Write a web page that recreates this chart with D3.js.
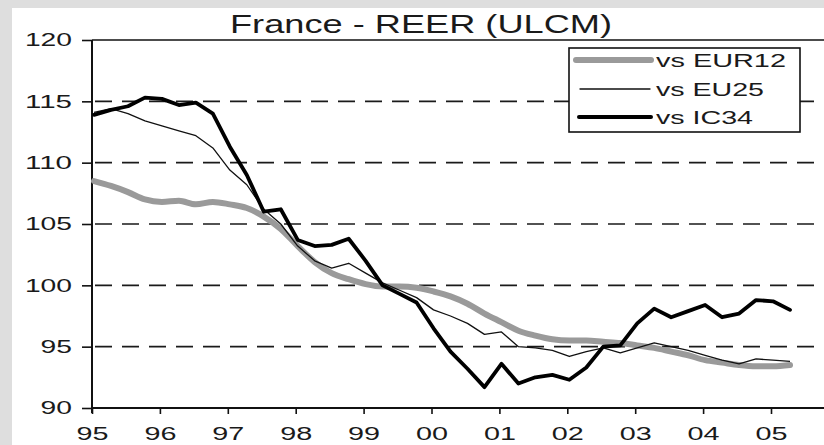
<!DOCTYPE html>
<html>
<head>
<meta charset="utf-8">
<script src="https://cdn.jsdelivr.net/npm/d3@7"></script>
<style>
  body { margin: 0; background: #fff; }
  svg { display: block; font-family: "Liberation Sans", Arial, sans-serif; }
</style>
</head>
<body>
<script>
// quarterly, 1995Q1 .. 2005Q2
var startYear = 1995;
var eur12 = [108.5,108.1,107.6,107.0,106.8,106.9,106.6,106.8,106.6,106.3,
             105.6,104.6,103.2,101.9,101.0,100.5,100.1,99.9,99.9,99.8,
             99.5,99.1,98.5,97.7,97.0,96.3,95.9,95.6,95.5,95.5,
             95.4,95.3,95.1,94.9,94.6,94.3,93.9,93.7,93.5,93.4,
             93.4,93.5];
var eu25 = [114.1,114.4,114.0,113.4,113.0,112.6,112.2,111.2,109.4,108.2,
            106.2,105.0,103.2,102.0,101.4,101.8,101.0,100.2,99.6,99.0,
            98.0,97.5,96.9,96.0,96.2,95.0,94.9,94.7,94.2,94.6,
            94.9,94.5,94.9,95.3,95.0,94.7,94.3,93.9,93.6,94.0,
            93.9,93.8];
var ic34 = [113.9,114.3,114.6,115.3,115.2,114.7,114.9,114.0,111.3,109.0,
            106.0,106.2,103.7,103.2,103.3,103.8,102.0,100.0,99.3,98.6,
            96.5,94.6,93.2,91.7,93.6,92.0,92.5,92.7,92.3,93.3,
            95.0,95.1,96.9,98.1,97.4,97.9,98.4,97.4,97.7,98.8,
            98.7,98.0];
var yTicks = [90, 95, 100, 105, 110, 115, 120];
var yGrid = [95, 100, 105, 110, 115];
var xTicks = [1995,1996,1997,1998,1999,2000,2001,2002,2003,2004,2005];
var seriesNames = ["vs EUR12", "vs EU25", "vs IC34"];

var W = 824, H = 445;
var svg = d3.select("body").append("svg")
    .attr("width", W)
    .attr("height", H);

// scanned page edges
svg.append("rect").attr("x", 0).attr("y", 0).attr("width", W).attr("height", 8).attr("fill", "#dedede");
svg.append("rect").attr("x", 0).attr("y", 0).attr("width", 12).attr("height", H).attr("fill", "#dedede");

var x = d3.scaleLinear().domain([1995, 2005]).range([92, 771]);
var y = d3.scaleLinear().domain([90, 120]).range([408, 40]);

function pts(arr) {
    return arr.map(function(v, i){ return {t: startYear + i/4 + 0.03, v: v}; });
}

// dashed grid
svg.append("g").selectAll("line")
    .data(yGrid)
    .enter().append("line")
    .attr("x1", x(1995)).attr("x2", W)
    .attr("y1", function(d){ return y(d); })
    .attr("y2", function(d){ return y(d); })
    .attr("stroke", "#1a1a1a")
    .attr("stroke-width", 1.6)
    .attr("stroke-dasharray", "17,10")
    .attr("stroke-dashoffset", -3);

// top border
svg.append("line")
    .attr("x1", x(1995)).attr("x2", W)
    .attr("y1", y(120)).attr("y2", y(120))
    .attr("stroke", "#111").attr("stroke-width", 1.5);

// y axis
var yAxis = svg.append("g")
    .attr("transform", "translate(" + x(1995) + ",0)")
    .call(d3.axisLeft(y).tickValues(yTicks).tickSize(10).tickPadding(10));
yAxis.select(".domain").attr("stroke", "#111").attr("stroke-width", 2)
    .attr("d", "M0," + y(120) + "V" + (y(90) + 5));
yAxis.selectAll(".tick line").attr("stroke", "#111").attr("stroke-width", 1.6);
yAxis.selectAll(".tick text")
    .attr("font-size", 18)
    .attr("font-family", "Liberation Sans, Arial, sans-serif")
    .attr("fill", "#1a1a1a")
    .attr("lengthAdjust", "spacingAndGlyphs")
    .attr("textLength", function(d){ return String(d).length * 15.7; });

// x axis
var xAxis = svg.append("g")
    .attr("transform", "translate(0," + y(90) + ")")
    .call(d3.axisBottom(x).tickValues(xTicks).tickSize(6).tickPadding(13)
        .tickFormat(function(d){ return String(d).slice(2); }));
xAxis.select(".domain").attr("stroke", "#111").attr("stroke-width", 2)
    .attr("d", "M" + x(1995) + ",0H" + W);
xAxis.selectAll(".tick line").attr("stroke", "#111").attr("stroke-width", 1.6);
xAxis.selectAll(".tick text")
    .attr("font-size", 18)
    .attr("font-family", "Liberation Sans, Arial, sans-serif")
    .attr("fill", "#1a1a1a")
    .attr("lengthAdjust", "spacingAndGlyphs")
    .attr("textLength", 32);

// lines
var line = d3.line()
    .x(function(d){ return x(d.t); })
    .y(function(d){ return y(d.v); });

svg.append("path")
    .datum(pts(eur12))
    .attr("d", line.curve(d3.curveMonotoneX))
    .attr("fill", "none")
    .attr("stroke", "#9a9a9a")
    .attr("stroke-width", 6)
    .attr("stroke-linecap", "round")
    .attr("stroke-linejoin", "round");

line.curve(d3.curveLinear);
svg.append("path")
    .datum(pts(eu25))
    .attr("d", line)
    .attr("fill", "none")
    .attr("stroke", "#111")
    .attr("stroke-width", 1.3)
    .attr("stroke-linejoin", "round");

svg.append("path")
    .datum(pts(ic34))
    .attr("d", line)
    .attr("fill", "none")
    .attr("stroke", "#000")
    .attr("stroke-width", 3.8)
    .attr("stroke-linecap", "round")
    .attr("stroke-linejoin", "round");

// title
svg.append("text")
    .attr("x", 421)
    .attr("y", 33)
    .attr("text-anchor", "middle")
    .attr("font-size", 26)
    .attr("fill", "#1a1a1a")
    .attr("lengthAdjust", "spacingAndGlyphs")
    .attr("textLength", 382)
    .text("France - REER (ULCM)");

// legend
var legend = svg.append("g");
legend.append("rect")
    .attr("x", 569).attr("y", 48)
    .attr("width", 231).attr("height", 84)
    .attr("fill", "#fff")
    .attr("stroke", "#111")
    .attr("stroke-width", 1.6);

var legendStyle = [
    {stroke: "#9a9a9a", width: 6, x1: 576, x2: 651, y: 60, tl: 130},
    {stroke: "#111", width: 1.3, x1: 580, x2: 650, y: 89, tl: 108},
    {stroke: "#000", width: 4, x1: 579, x2: 651, y: 117, tl: 97}
];
var items = legend.selectAll("g.item")
    .data(seriesNames)
    .enter().append("g")
    .attr("class", "item");
items.append("line")
    .attr("x1", function(d, i){ return legendStyle[i].x1; })
    .attr("x2", function(d, i){ return legendStyle[i].x2; })
    .attr("y1", function(d, i){ return legendStyle[i].y; })
    .attr("y2", function(d, i){ return legendStyle[i].y; })
    .attr("stroke", function(d, i){ return legendStyle[i].stroke; })
    .attr("stroke-width", function(d, i){ return legendStyle[i].width; })
    .attr("stroke-linecap", "round");
items.append("text")
    .attr("x", 656)
    .attr("y", function(d, i){ return legendStyle[i].y + 7; })
    .attr("font-size", 18)
    .attr("fill", "#1a1a1a")
    .attr("lengthAdjust", "spacingAndGlyphs")
    .attr("textLength", function(d, i){ return legendStyle[i].tl; })
    .text(function(d){ return d; });
</script>
</body>
</html>
